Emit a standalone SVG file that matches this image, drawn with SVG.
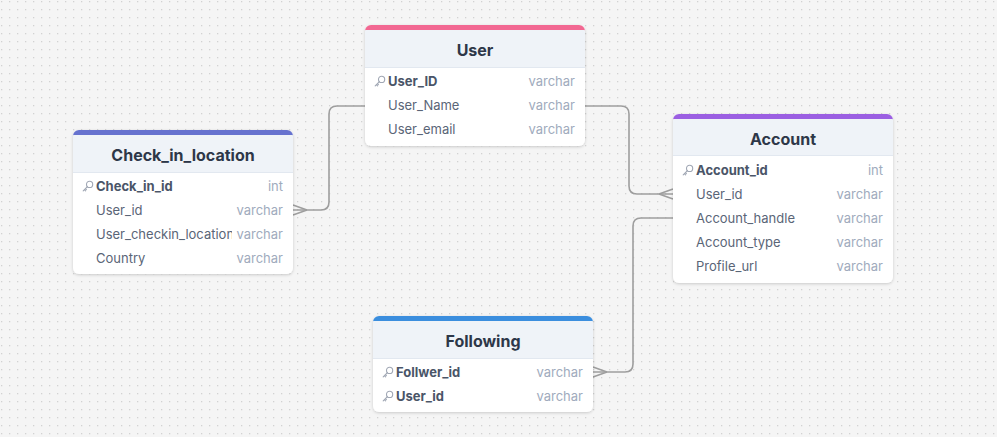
<svg xmlns="http://www.w3.org/2000/svg" width="997" height="437" viewBox="0 0 997 437">
<defs>
  <pattern id="dots" x="0" y="0" width="8" height="8" patternUnits="userSpaceOnUse">
    <rect x="1" y="1" width="1.3" height="1.3" fill="#d2d2d2"/>
  </pattern>
  <filter id="shadow" x="-10%" y="-10%" width="120%" height="130%">
    <feDropShadow dx="0" dy="1" stdDeviation="1.5" flood-color="#000" flood-opacity="0.18"/>
  </filter>
  <symbol id="key" viewBox="0 0 12 12" overflow="visible">
    <circle cx="7.6" cy="4.4" r="3.1" fill="none" stroke="#a0a7b4" stroke-width="1.1"/>
    <path d="M5.4,6.6 L1.2,10.8 M2.4,9.6 L3.6,10.8 M3.4,8.6 L4.4,9.6" fill="none" stroke="#a0a7b4" stroke-width="1.1" stroke-linecap="round"/>
  </symbol>
  <clipPath id="clipName"><rect x="0" y="0" width="159" height="300"/></clipPath>
  <style>
    .card{fill:#ffffff;filter:url(#shadow);}
    .hdr{fill:#eff3f8;}
    .sep{stroke:#e2e8f0;stroke-width:1;}
    .title{font-family:Inter,"Liberation Sans",sans-serif;font-size:16px;font-weight:700;fill:#2d3748;text-anchor:middle;}
    .col{font-family:Inter,"Liberation Sans",sans-serif;font-size:13px;fill:#5a6577;}
    .pk{font-weight:700;fill:#4a5568;}
    .typ{font-family:Inter,"Liberation Sans",sans-serif;font-size:13px;fill:#a0abbd;text-anchor:end;}
    .conn{fill:none;stroke:#9e9e9e;stroke-width:1.6;}
  </style>
</defs>
<rect width="997" height="437" fill="#f5f5f5"/>
<rect width="997" height="437" fill="url(#dots)"/>

<g id="connectors">
  <path class="conn" d="M293,210 H321 Q329,210 329,202 V114 Q329,106 337,106 H365"/>
  <path class="conn" d="M293,205 L307,210 M293,215 L307,210"/>
  <path class="conn" d="M585,106 H621 Q629,106 629,114 V186 Q629,194 637,194 H673"/>
  <path class="conn" d="M673,189 L659,194 M673,199 L659,194"/>
  <path class="conn" d="M673,218 H641 Q633,218 633,226 V364 Q633,372 625,372 H593"/>
  <path class="conn" d="M593,367 L607,372 M593,377 L607,372"/>
</g>

<g id="node-user" transform="translate(365,25)">
  <rect class="card" width="220" height="121" rx="6"/>
  <path class="hdr" d="M0,5 H220 V42 H0 Z"/>
  <path d="M0,5 V6 A6,6 0 0 1 6,0 H214 A6,6 0 0 1 220,6 V5 Z" fill="#f26892"/>
  <line class="sep" x1="0" y1="42.5" x2="220" y2="42.5"/>
  <text class="title" x="110" y="31">User</text>
  <use href="#key" x="9" y="50" width="12" height="12"/>
  <text class="col pk" x="23" y="60.5">User_ID</text><text class="typ" x="210" y="60.5">varchar</text>
  <text class="col" x="23" y="84.5">User_Name</text><text class="typ" x="210" y="84.5">varchar</text>
  <text class="col" x="23" y="108.5">User_email</text><text class="typ" x="210" y="108.5">varchar</text>
</g>

<g id="node-check_in_location" transform="translate(73,130)">
  <rect class="card" width="220" height="144" rx="6"/>
  <path class="hdr" d="M0,5 H220 V42 H0 Z"/>
  <path d="M0,5 V6 A6,6 0 0 1 6,0 H214 A6,6 0 0 1 220,6 V5 Z" fill="#6672cf"/>
  <line class="sep" x1="0" y1="42.5" x2="220" y2="42.5"/>
  <text class="title" x="110" y="31">Check_in_location</text>
  <use href="#key" x="9" y="50" width="12" height="12"/>
  <text class="col pk" x="23" y="60.5">Check_in_id</text><text class="typ" x="210" y="60.5">int</text>
  <text class="col" x="23" y="84.5">User_id</text><text class="typ" x="210" y="84.5">varchar</text>
  <text class="col" x="23" y="108.5" clip-path="url(#clipName)">User_checkin_location</text><text class="typ" x="210" y="108.5">varchar</text>
  <text class="col" x="23" y="132.5">Country</text><text class="typ" x="210" y="132.5">varchar</text>
</g>

<g id="node-account" transform="translate(673,114)">
  <rect class="card" width="220" height="169" rx="6"/>
  <path class="hdr" d="M0,5 H220 V41 H0 Z"/>
  <path d="M0,5 V6 A6,6 0 0 1 6,0 H214 A6,6 0 0 1 220,6 V5 Z" fill="#9b5fe2"/>
  <line class="sep" x1="0" y1="41.5" x2="220" y2="41.5"/>
  <text class="title" x="110" y="31">Account</text>
  <use href="#key" x="9" y="50" width="12" height="12"/>
  <text class="col pk" x="23" y="60.5">Account_id</text><text class="typ" x="210" y="60.5">int</text>
  <text class="col" x="23" y="84.5">User_id</text><text class="typ" x="210" y="84.5">varchar</text>
  <text class="col" x="23" y="108.5">Account_handle</text><text class="typ" x="210" y="108.5">varchar</text>
  <text class="col" x="23" y="132.5">Account_type</text><text class="typ" x="210" y="132.5">varchar</text>
  <text class="col" x="23" y="157">Profile_url</text><text class="typ" x="210" y="157">varchar</text>
</g>

<g id="node-following" transform="translate(373,316)">
  <rect class="card" width="220" height="96" rx="6"/>
  <path class="hdr" d="M0,5 H220 V42 H0 Z"/>
  <path d="M0,5 V6 A6,6 0 0 1 6,0 H214 A6,6 0 0 1 220,6 V5 Z" fill="#3b8ede"/>
  <line class="sep" x1="0" y1="42.5" x2="220" y2="42.5"/>
  <text class="title" x="110" y="31">Following</text>
  <use href="#key" x="9" y="50" width="12" height="12"/>
  <text class="col pk" x="23" y="60.5">Follwer_id</text><text class="typ" x="210" y="60.5">varchar</text>
  <use href="#key" x="9" y="74" width="12" height="12"/>
  <text class="col pk" x="23" y="84.5">User_id</text><text class="typ" x="210" y="84.5">varchar</text>
</g>
</svg>
